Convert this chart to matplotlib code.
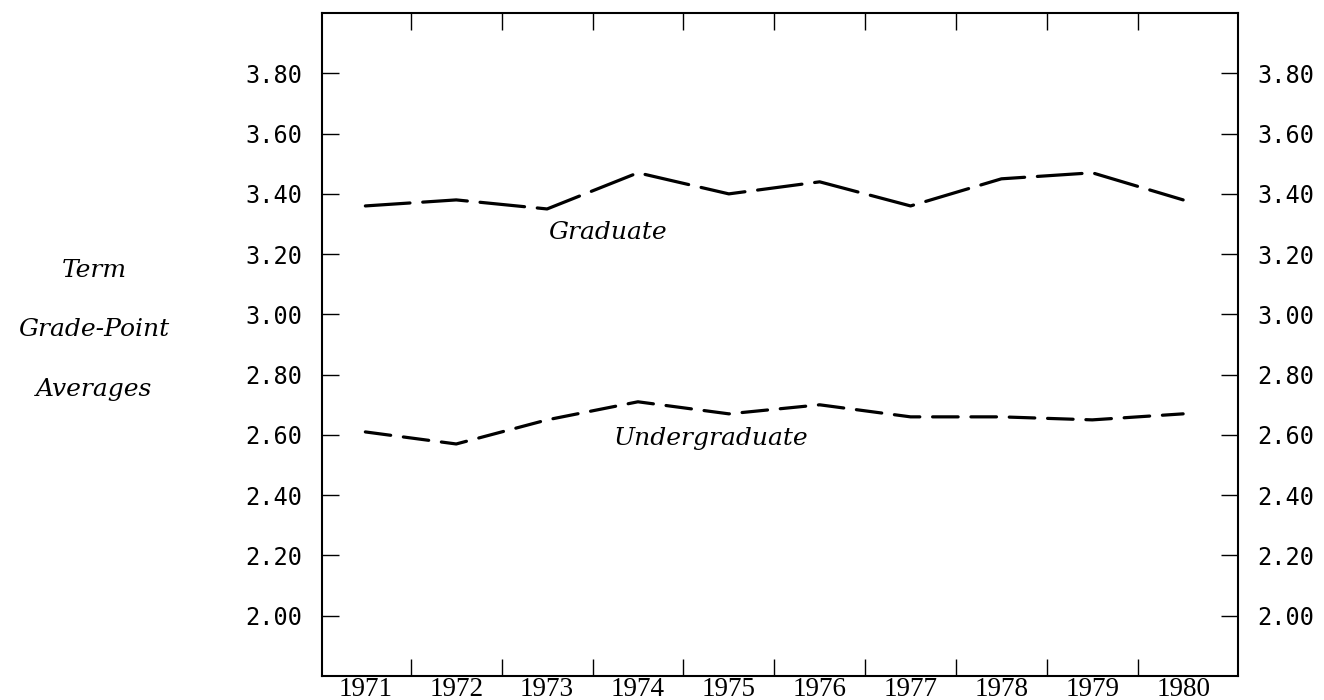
import matplotlib
matplotlib.use("Agg")
import matplotlib.pyplot as plt
from matplotlib.ticker import FixedLocator, NullFormatter

years = [1971, 1972, 1973, 1974, 1975, 1976, 1977, 1978, 1979, 1980]
graduate = [3.36, 3.38, 3.35, 3.47, 3.40, 3.44, 3.36, 3.45, 3.47, 3.38]
undergrad = [2.61, 2.57, 2.65, 2.71, 2.67, 2.70, 2.66, 2.66, 2.65, 2.67]
gpa_ticks = [2.00, 2.20, 2.40, 2.60, 2.80, 3.00, 3.20, 3.40, 3.60, 3.80]
side_label = ["Term", "Grade-Point", "Averages"]

fig = plt.figure(figsize=(13.24, 7.0), dpi=100)
ax = fig.add_axes([0.243, 0.0343, 0.6918, 0.947])

ax.plot(years, graduate, color="black", lw=2.3, linestyle=(0, (14, 4)),
        dash_capstyle="round")
ax.plot(years, undergrad, color="black", lw=2.3, linestyle=(0, (8, 4)),
        dash_capstyle="round")

ax.set_xlim(1970.52, 1980.6)
ax.set_ylim(1.80, 4.00)

# years as labels without marks, tick marks between the years
ax.xaxis.set_major_locator(FixedLocator(years))
ax.xaxis.set_minor_locator(FixedLocator([y + 0.5 for y in years[:-1]]))
ax.xaxis.set_minor_formatter(NullFormatter())
ax.set_xticklabels([str(y) for y in years], family="Liberation Serif",
                   fontsize=19.5)
ax.tick_params(axis="x", which="major", length=0, pad=1)
ax.tick_params(axis="x", which="minor", direction="in", length=12,
               width=1.0, top=True, bottom=True)

ax.set_yticks(gpa_ticks)
ax.set_yticklabels(["%.2f" % v for v in gpa_ticks],
                   family="DejaVu Sans Mono", fontsize=17)
ax.tick_params(axis="y", direction="in", length=12, width=1.0,
               left=True, right=True, labelleft=True, labelright=True,
               pad=14)

for s in ax.spines.values():
    s.set_linewidth(1.5)

ax.text(1973.01, 3.271, "Graduate", family="DejaVu Serif", style="italic",
        fontsize=18, va="center", ha="left")
ax.text(1973.73, 2.587, "Undergraduate", family="DejaVu Serif",
        style="italic", fontsize=18, va="center", ha="left")

for txt, fy in zip(side_label, [0.614, 0.529, 0.443]):
    fig.text(0.071, fy, txt, family="DejaVu Serif", style="italic",
             fontsize=18, ha="center", va="center")

fig.savefig("out.png", dpi=100)
